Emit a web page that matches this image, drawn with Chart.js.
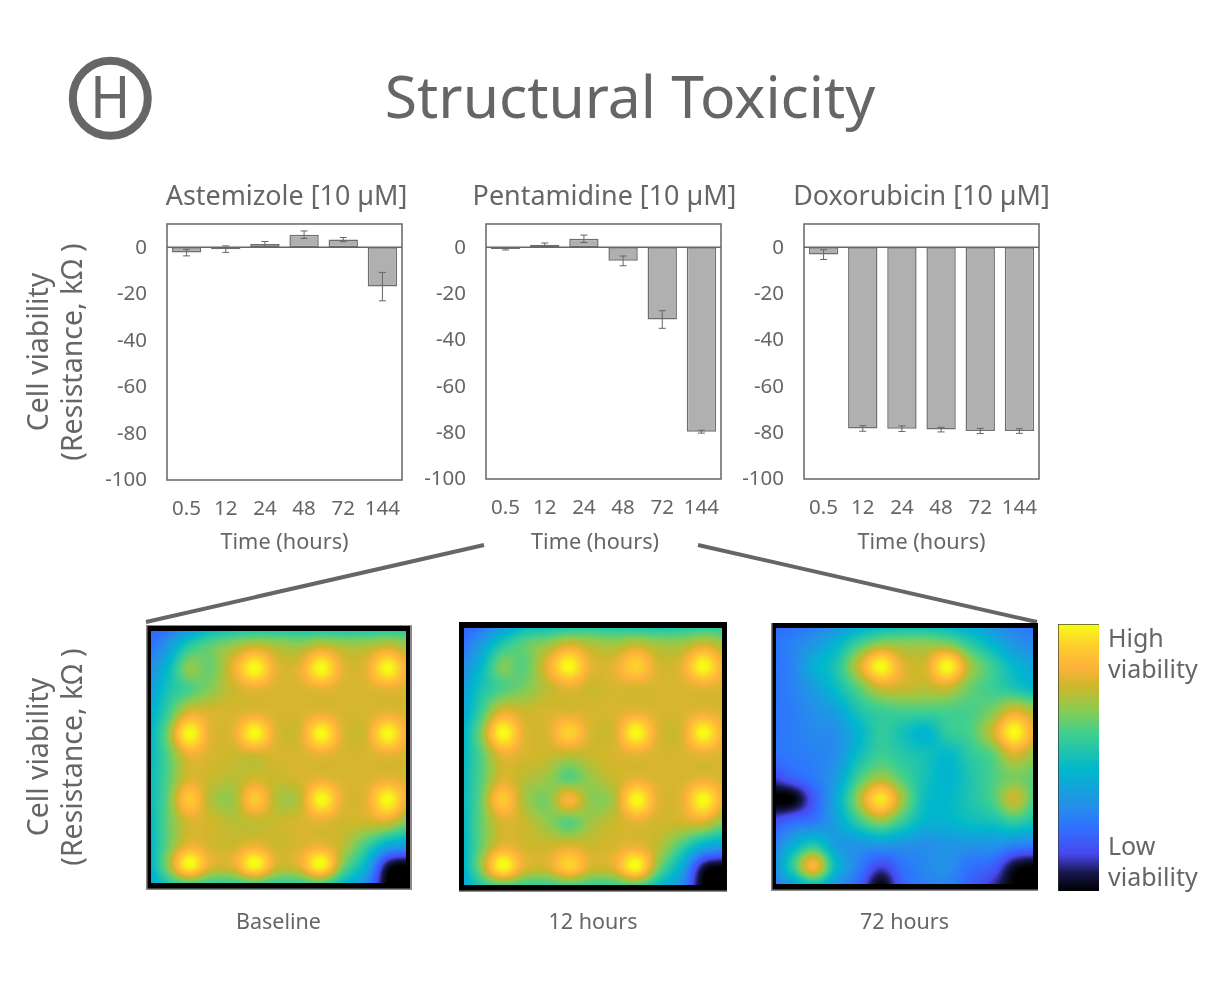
<!DOCTYPE html>
<html>
<head>
<meta charset="utf-8">
<title>Structural Toxicity</title>
<script src="https://cdn.jsdelivr.net/npm/chart.js@4"></script>
<style>
  html, body { margin: 0; background: #fff; }
  #page { position: relative; width: 1226px; height: 1000px; overflow: hidden; font-family: "Noto Sans", sans-serif; color: #666; }
  #page canvas { position: absolute; }
  #page svg { position: absolute; left: 0; top: 0; }
  h1 { position: absolute; left: 330px; width: 600px; top: 55px; margin: 0; text-align: center; font-weight: 400; font-size: 58.8px; line-height: 80px; }
</style>
</head>
<body>
<div id="page">
  <h1>Structural Toxicity</h1>
  <svg width="1226" height="1000">
    <circle cx="110.3" cy="98.3" r="37.5" fill="none" stroke="#666" stroke-width="8"/>
    <text x="110.3" y="118" text-anchor="middle" font-family="Roboto" font-size="59" textLength="38.5" lengthAdjust="spacingAndGlyphs" fill="#666">H</text>
    <line x1="484" y1="545" x2="146" y2="622" stroke="#666" stroke-width="4"/>
    <line x1="698" y1="545" x2="1037" y2="622" stroke="#666" stroke-width="4"/>
  </svg>
  <canvas id="barA"></canvas>
  <canvas id="barB"></canvas>
  <canvas id="barC"></canvas>
  <canvas id="heatA"></canvas>
  <canvas id="heatB"></canvas>
  <canvas id="heatC"></canvas>
  <canvas id="colorbar"></canvas>
</div>

<script>
const hours = ['0.5', '12', '24', '48', '72', '144'];
const yTicks = [0, -20, -40, -60, -80, -100];

const astemizole = [-2.3, -0.8, 1.4, 5.4, 3.3, -16.9];
const astemizoleErr = [1.4, 1.4, 1.1, 1.6, 0.9, 6.1];
const pentamidine = [-0.8, 1.1, 3.6, -5.9, -31.2, -79.6];
const pentamidineErr = [0.4, 0.7, 1.6, 2.1, 3.8, 0.6];
const doxorubicin = [-3.2, -78.2, -78.3, -78.7, -79.3, -79.3];
const doxorubicinErr = [2.1, 1.2, 1.2, 1.0, 1.1, 1.0];

const colormapValues = [0, 7, 14, 24, 32, 45.5, 59, 68, 76.5, 84, 92.5, 100];
const colormapColors = ['#000000', '#181850', '#4848f0', '#2f72ff', '#2490e8', '#00b8cc',
  '#3fcf8f', '#8ccb50', '#cdb72a', '#ffb23a', '#fcd22c', '#f8fc14'];

// viability, 13 x 13 samples, wells sit at rows/cols 2, 5, 8, 11
const baselineGrid = [
  [18, 22, 30, 42, 46, 47, 48, 48, 47, 47, 48, 50, 50],
  [22, 34, 54, 63, 70, 76, 72, 70, 76, 72, 72, 76, 70],
  [28, 44, 68, 64, 80, 100, 80, 80, 100, 80, 80, 100, 80],
  [32, 50, 60, 68, 76, 80, 78, 78, 80, 78, 78, 80, 78],
  [38, 56, 78, 78, 78, 80, 78, 78, 80, 78, 78, 80, 78],
  [40, 64, 100, 80, 80, 100, 79, 78, 100, 79, 78, 100, 80],
  [42, 60, 80, 78, 76, 76, 78, 78, 80, 78, 78, 80, 78],
  [44, 60, 78, 76, 74, 77, 76, 78, 80, 78, 78, 80, 78],
  [44, 62, 90, 73, 70, 90, 73, 74, 100, 80, 80, 100, 79],
  [42, 62, 78, 77, 74, 75, 76, 78, 80, 77, 77, 78, 66],
  [40, 62, 80, 77, 76, 80, 76, 78, 80, 74, 60, 44, 38],
  [38, 66, 100, 80, 80, 100, 78, 80, 100, 66, 44, 6, 0],
  [35, 50, 54, 54, 54, 54, 54, 54, 54, 44, 30, 0, 0]
];
const hours12Grid = [
  [18, 22, 30, 42, 44, 46, 48, 48, 46, 46, 48, 50, 50],
  [22, 34, 52, 62, 68, 76, 72, 70, 74, 70, 70, 76, 70],
  [28, 44, 66, 62, 80, 100, 80, 80, 92, 78, 80, 100, 80],
  [32, 50, 60, 66, 74, 80, 76, 78, 78, 78, 78, 80, 78],
  [36, 56, 78, 76, 78, 78, 78, 78, 80, 78, 78, 80, 78],
  [40, 64, 100, 80, 78, 92, 78, 78, 100, 79, 78, 100, 80],
  [42, 60, 80, 78, 76, 74, 76, 78, 80, 78, 78, 80, 78],
  [44, 60, 78, 74, 70, 62, 70, 76, 80, 78, 78, 80, 78],
  [44, 62, 90, 72, 66, 84, 68, 72, 100, 80, 80, 100, 79],
  [42, 62, 78, 76, 69, 62, 71, 76, 80, 77, 77, 78, 66],
  [40, 62, 80, 77, 76, 78, 76, 78, 80, 74, 60, 44, 38],
  [38, 66, 100, 80, 78, 92, 78, 80, 100, 66, 42, 6, 0],
  [35, 50, 54, 54, 54, 54, 54, 54, 54, 44, 30, 0, 0]
];
const hours72Grid = [
  [22, 22, 26, 30, 38, 42, 44, 44, 42, 38, 32, 26, 24],
  [24, 28, 34, 44, 58, 68, 68, 68, 66, 55, 44, 34, 30],
  [24, 28, 42, 52, 76, 100, 80, 78, 100, 72, 58, 45, 38],
  [24, 28, 36, 48, 62, 76, 76, 74, 76, 64, 58, 52, 45],
  [24, 27, 32, 38, 52, 58, 60, 60, 60, 60, 66, 78, 70],
  [24, 27, 30, 32, 44, 56, 50, 44, 56, 60, 76, 100, 78],
  [24, 26, 28, 32, 48, 58, 54, 50, 46, 55, 62, 78, 68],
  [12, 20, 26, 36, 58, 70, 60, 50, 44, 52, 60, 66, 62],
  [0, 0, 18, 40, 70, 96, 70, 48, 46, 52, 60, 76, 58],
  [14, 22, 26, 38, 56, 68, 56, 44, 44, 48, 50, 56, 50],
  [24, 40, 52, 36, 34, 36, 34, 32, 34, 34, 34, 30, 28],
  [26, 54, 84, 46, 28, 14, 24, 30, 32, 24, 20, 4, 0],
  [24, 32, 42, 32, 20, 0, 20, 28, 28, 20, 10, 0, 0]
];

const textColor = '#666';
const fontFamily = '"Noto Sans", sans-serif';
const yTitle = ['Cell viability', '(Resistance, kΩ )'];

function hexRgb(h) {
  return [1, 3, 5].map(i => parseInt(h.slice(i, i + 2), 16));
}
const cmapRgb = colormapColors.map(hexRgb);

function colorFor(v) {
  let i = 0;
  while (i < colormapValues.length - 2 && v > colormapValues[i + 1]) i++;
  const t = Math.min(1, Math.max(0, (v - colormapValues[i]) / (colormapValues[i + 1] - colormapValues[i])));
  return cmapRgb[i].map((c, k) => c + (cmapRgb[i + 1][k] - c) * t);
}

function cubic(a, b, c, d, t) {
  return 0.5 * (2 * b + (c - a) * t + (2 * a - 5 * b + 4 * c - d) * t * t + (3 * b - a - 3 * c + d) * t * t * t);
}

function sampleGrid(grid, x, y) {
  const n = grid.length - 1;
  const at = (r, c) => grid[Math.max(0, Math.min(n, r))][Math.max(0, Math.min(n, c))];
  const c0 = Math.floor(x), r0 = Math.floor(y);
  const rows = [-1, 0, 1, 2].map(k =>
    cubic(at(r0 + k, c0 - 1), at(r0 + k, c0), at(r0 + k, c0 + 1), at(r0 + k, c0 + 2), x - c0));
  return cubic(rows[0], rows[1], rows[2], rows[3], y - r0);
}

// paints the map behind the points, each pixel goes through the chart's own scales
const heatPlugin = {
  id: 'heat',
  beforeDatasetsDraw(chart, args, opts) {
    if (!opts.frame) return;
    const {ctx, chartArea: a, scales: {x, y}} = chart;
    const grid = [];
    chart.data.datasets[0].data.forEach(p => {
      (grid[p.y] = grid[p.y] || [])[p.x] = p.v;
    });
    const w = Math.round(a.right - a.left), h = Math.round(a.bottom - a.top);
    const img = ctx.createImageData(w, h);
    for (let py = 0; py < h; py++) {
      for (let px = 0; px < w; px++) {
        const v = sampleGrid(grid, x.getValueForPixel(a.left + px + 0.5), y.getValueForPixel(a.top + py + 0.5));
        const rgb = colorFor(v);
        const o = (py * w + px) * 4;
        img.data[o] = rgb[0]; img.data[o + 1] = rgb[1]; img.data[o + 2] = rgb[2]; img.data[o + 3] = 255;
      }
    }
    ctx.putImageData(img, Math.round(a.left), Math.round(a.top));

    const f = opts.frame;
    const l = a.left - f.l, r = a.right + f.r, t = a.top - f.t, b = a.bottom + f.b;
    ctx.save();
    ctx.fillStyle = '#000';
    ctx.fillRect(l, t, r - l, f.t);
    ctx.fillRect(l, a.bottom, r - l, f.b);
    ctx.fillRect(l, t, f.l, b - t);
    ctx.fillRect(a.right, t, f.r, b - t);
    ctx.fillStyle = '#8a8a8a';
    if (f.grey.includes('l')) ctx.fillRect(l, t, 1.5, b - t);
    if (f.grey.includes('r')) ctx.fillRect(r - 2, t, 2, b - t);
    if (f.grey.includes('t')) ctx.fillRect(l, t, r - l, 1);
    if (f.grey.includes('b')) ctx.fillRect(l, b - 1.5, r - l, 1.5);
    ctx.restore();
  }
};

const errorBarPlugin = {
  id: 'errorBars',
  afterDatasetsDraw(chart) {
    const ds = chart.data.datasets[0];
    if (!ds.errors) return;
    const {ctx, scales: {y}} = chart;
    ctx.save();
    ctx.strokeStyle = '#666';
    ctx.lineWidth = 1;
    chart.getDatasetMeta(0).data.forEach((bar, i) => {
      const hi = y.getPixelForValue(ds.data[i] + ds.errors[i]);
      const lo = y.getPixelForValue(ds.data[i] - ds.errors[i]);
      ctx.beginPath();
      ctx.moveTo(bar.x, hi); ctx.lineTo(bar.x, lo);
      ctx.moveTo(bar.x - 3.5, hi); ctx.lineTo(bar.x + 3.5, hi);
      ctx.moveTo(bar.x - 3.5, lo); ctx.lineTo(bar.x + 3.5, lo);
      ctx.stroke();
    });
    const a = chart.chartArea;
    ctx.strokeStyle = '#666';
    ctx.lineWidth = 1.5;
    ctx.strokeRect(a.left, a.top, a.right - a.left, a.bottom - a.top);
    const zero = y.getPixelForValue(0);
    ctx.beginPath();
    ctx.moveTo(a.left, zero); ctx.lineTo(a.right, zero);
    ctx.stroke();
    ctx.restore();
  }
};

// the title is wider than the plot and not centred on it, so move its block
const titleCentrePlugin = {
  id: 'titleCentre',
  afterLayout(chart, args, opts) {
    const t = chart.titleBlock;
    t.left = opts.cx - 150;
    t.right = opts.cx + 150;
    t.width = 300;
  }
};

function place(id, box) {
  const c = document.getElementById(id);
  c.style.left = box.left + 'px';
  c.style.top = box.top + 'px';
  c.width = box.width;
  c.height = box.height;
  return c.getContext('2d');
}

function pinWidth(w) {
  return s => { s.width = w; s.paddingTop = 0; s.paddingBottom = 0; };
}
function pinHeight(h) {
  return s => { s.height = h; s.paddingLeft = 0; s.paddingRight = 0; };
}

function createBarChart(id, box, plot, name, titleX, values, errors, xTitle, withYTitle) {
  return new Chart(place(id, box), {
    type: 'bar',
    data: {
      labels: hours,
      datasets: [{
        data: values,
        errors: errors,
        backgroundColor: '#b0b0b0',
        borderColor: '#6e6e6e',
        borderWidth: 1.5,
        borderSkipped: false,
        barPercentage: 0.75,
        categoryPercentage: 1
      }]
    },
    plugins: [errorBarPlugin, titleCentrePlugin],
    options: {
      responsive: false,
      animation: false,
      layout: { padding: { left: 0, right: box.left + box.width - plot.r, top: 0, bottom: 0 } },
      plugins: {
        legend: { display: false },
        tooltip: { enabled: false },
        titleCentre: { cx: titleX - box.left },
        title: {
          display: true,
          text: name,
          color: textColor,
          font: { family: fontFamily, size: 26.9, weight: 'normal', lineHeight: 1.115 },
          padding: { top: 2, bottom: plot.t - box.top - 32 }
        }
      },
      scales: {
        x: {
          afterFit: pinHeight(box.top + box.height - plot.b),
          grid: { display: false, drawTicks: false },
          border: { display: false },
          ticks: { color: textColor, padding: 17, maxRotation: 0, font: { family: fontFamily, size: 20.5 } },
          title: {
            display: true,
            text: xTitle,
            color: textColor,
            font: { family: fontFamily, size: 21.7, lineHeight: 1.1 },
            padding: { top: 0, bottom: 5 }
          }
        },
        y: {
          min: -100,
          max: 10,
          afterFit: pinWidth(plot.l - box.left),
          afterBuildTicks: s => { s.ticks = yTicks.map(v => ({ value: v })); },
          grid: { display: false, drawTicks: false },
          border: { display: false },
          ticks: { color: textColor, padding: 20, labelOffset: 0.5, font: { family: fontFamily, size: 20.5 } },
          title: {
            display: withYTitle,
            text: yTitle,
            color: textColor,
            font: { family: fontFamily, size: 28.5, lineHeight: 1.19 },
            padding: { top: 3, bottom: 0 }
          }
        }
      }
    }
  });
}

function createHeatChart(id, box, plot, grid, caption, frame, withYTitle) {
  const points = [];
  grid.forEach((row, r) => row.forEach((v, c) => points.push({ x: c, y: r, v: v })));
  return new Chart(place(id, box), {
    type: 'scatter',
    data: { datasets: [{ data: points, pointRadius: 0 }] },
    plugins: [heatPlugin],
    options: {
      responsive: false,
      animation: false,
      layout: { padding: { left: 0, right: box.left + box.width - plot.r, top: plot.t - box.top, bottom: 0 } },
      plugins: {
        legend: { display: false },
        tooltip: { enabled: false },
        heat: { frame: frame }
      },
      scales: {
        x: {
          min: 0.31,
          max: 11.83,
          afterFit: pinHeight(box.top + box.height - plot.b),
          grid: { display: false, drawTicks: false },
          border: { display: false },
          ticks: { display: false },
          title: {
            display: true,
            text: caption,
            color: textColor,
            font: { family: fontFamily, size: 21.5, lineHeight: 1.1 },
            padding: { top: 0, bottom: 5 }
          }
        },
        y: {
          reverse: true,
          min: 0.31,
          max: 11.8,
          afterFit: pinWidth(plot.l - box.left),
          grid: { display: false, drawTicks: false },
          border: { display: false },
          ticks: { display: false },
          title: {
            display: withYTitle,
            text: yTitle,
            color: textColor,
            font: { family: fontFamily, size: 28.5, lineHeight: 1.19 },
            padding: { top: 3, bottom: 0 }
          }
        }
      }
    }
  });
}

function createColorbar(id, box, plot) {
  return new Chart(place(id, box), {
    type: 'bar',
    data: {
      labels: ['viability'],
      datasets: [{
        data: [[0, 100]],
        barPercentage: 1,
        categoryPercentage: 1,
        backgroundColor: c => {
          const { chartArea, scales } = c.chart;
          if (!chartArea) return '#000';
          const y = scales.y;
          const g = c.chart.ctx.createLinearGradient(0, y.getPixelForValue(0), 0, y.getPixelForValue(100));
          colormapValues.forEach((v, i) => g.addColorStop(v / 100, colormapColors[i]));
          return g;
        }
      }]
    },
    plugins: [{
      id: 'barEdge',
      afterDatasetsDraw(chart) {
        const { ctx, chartArea: a } = chart;
        ctx.fillStyle = 'rgba(50,50,50,0.65)';
        ctx.fillRect(a.left, a.top, 1, a.bottom - a.top);
        ctx.fillRect(a.left, a.top, a.right - a.left, 1);
      }
    }],
    options: {
      responsive: false,
      animation: false,
      layout: { padding: { left: plot.l - box.left, right: 0, top: plot.t - box.top, bottom: box.top + box.height - plot.b } },
      plugins: { legend: { display: false }, tooltip: { enabled: false } },
      scales: {
        x: { display: false },
        y: {
          position: 'right',
          min: 0,
          max: 100,
          afterFit: pinWidth(box.left + box.width - plot.r),
          afterBuildTicks: s => { s.ticks = [{ value: 89 }, { value: 11 }]; },
          grid: { display: false, drawTicks: false },
          border: { display: false },
          ticks: {
            color: textColor,
            padding: 9,
            labelOffset: 2,
            font: { family: fontFamily, size: 25, lineHeight: 1.24 },
            callback: v => v > 50 ? ['High', 'viability'] : ['Low', 'viability']
          }
        }
      }
    }
  });
}

createBarChart('barA', { left: 20, top: 180, width: 400, height: 380 }, { l: 167, r: 402, t: 224, b: 480 },
  'Astemizole [10 µM]', 286.5, astemizole, astemizoleErr, 'Time (hours)', true);
// trailing spaces: this caption sits left of the plot centre in the original
createBarChart('barB', { left: 420, top: 180, width: 320, height: 380 }, { l: 486, r: 721, t: 224, b: 479 },
  'Pentamidine [10 µM]', 604.5, pentamidine, pentamidineErr, 'Time (hours)   ', false);
createBarChart('barC', { left: 740, top: 180, width: 320, height: 380 }, { l: 804, r: 1039, t: 224, b: 479 },
  'Doxorubicin [10 µM]', 921.5, doxorubicin, doxorubicinErr, 'Time (hours)', false);

createHeatChart('heatA', { left: 20, top: 610, width: 400, height: 330 }, { l: 151, r: 406, t: 631, b: 883 },
  baselineGrid, 'Baseline', { l: 5, r: 6, t: 6, b: 7, grey: 'lrtb' }, true);
createHeatChart('heatB', { left: 430, top: 610, width: 310, height: 330 }, { l: 464, r: 722, t: 628, b: 885 },
  hours12Grid, '12 hours', { l: 5, r: 5, t: 6, b: 7, grey: 'b' }, false);
createHeatChart('heatC', { left: 745, top: 610, width: 310, height: 330 }, { l: 776, r: 1033, t: 628, b: 884 },
  hours72Grid, '72 hours', { l: 5, r: 5, t: 5, b: 7, grey: 'lb' }, false);

createColorbar('colorbar', { left: 1040, top: 610, width: 186, height: 300 }, { l: 1058, r: 1099, t: 624, b: 891 });
</script>
</body>
</html>
